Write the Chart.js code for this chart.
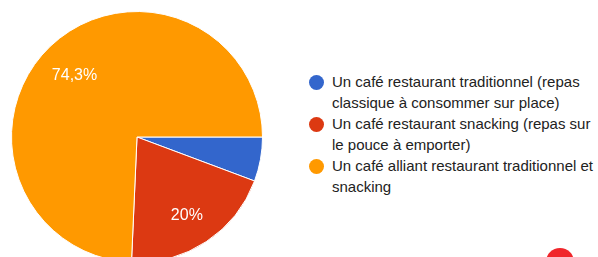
<!DOCTYPE html>
<html>
<head>
<meta charset="utf-8">
<script src="https://cdn.jsdelivr.net/npm/chart.js@4/dist/chart.umd.min.js"></script>
<style>
  html, body { margin: 0; padding: 0; background: #fff; overflow: hidden; }
  body { width: 598px; height: 257px; position: relative; }
  #pie-wrap { position: absolute; left: 0; top: 0; width: 274px; height: 274px; }
  #legend { position: absolute; left: 309px; top: 72px; font-family: "Liberation Sans", Arial, sans-serif;
            font-size: 15px; line-height: 20.5px; color: #222; }
  .item { position: relative; padding-left: 23px; margin-bottom: 1px; white-space: nowrap; }
  .dot { position: absolute; left: 0; top: 3px; width: 15px; height: 15px; border-radius: 50%; }
  #badge { position: absolute; left: 546px; top: 248px; width: 28px; height: 28px; border-radius: 50%; background: #f0262b; }
</style>
</head>
<body>
<div id="pie-wrap"><canvas id="pie-chart" width="274" height="274"></canvas></div>
<div id="legend"></div>
<div id="badge"></div>
<script>
const labels = [
  ["Un café restaurant traditionnel (repas", "classique à consommer sur place)"],
  ["Un café restaurant snacking (repas sur", "le pouce à emporter)"],
  ["Un café alliant restaurant traditionnel et", "snacking"]
];
const values = [5.7, 20, 74.3];
const colors = ["#3366cc", "#dc3912", "#ff9900"];

// legend as html, built from the same arrays
const legend = document.getElementById("legend");
labels.forEach((lines, i) => {
  const item = document.createElement("div");
  item.className = "item";
  const dot = document.createElement("span");
  dot.className = "dot";
  dot.style.background = colors[i];
  item.appendChild(dot);
  lines.forEach((line, j) => {
    if (j > 0) item.appendChild(document.createElement("br"));
    item.appendChild(document.createTextNode(line));
  });
  legend.appendChild(item);
});

function formatPct(v) {
  return String(v).replace(".", ",") + "%";
}

// percentage labels inside the slices
const sliceLabels = {
  id: "sliceLabels",
  afterDatasetsDraw(chart) {
    const ctx = chart.ctx;
    const meta = chart.getDatasetMeta(0);
    ctx.save();
    ctx.fillStyle = "#fff";
    ctx.font = "16px 'Liberation Sans', Arial, sans-serif";
    ctx.textAlign = "center";
    ctx.textBaseline = "alphabetic";
    meta.data.forEach((arc, i) => {
      if (values[i] < 10) return;
      const mid = (arc.startAngle + arc.endAngle) / 2;
      const r = arc.outerRadius * 0.72;
      ctx.fillText(formatPct(values[i]), arc.x + Math.cos(mid) * r, arc.y + Math.sin(mid) * r + 8);
    });
    ctx.restore();
  }
};

new Chart(document.getElementById("pie-chart").getContext("2d"), {
  type: "pie",
  data: {
    labels: labels.map(l => l.join(" ")),
    datasets: [
      {
        data: values,
        backgroundColor: colors,
        borderColor: "#fff",
        borderWidth: 1
      }
    ]
  },
  options: {
    responsive: false,
    devicePixelRatio: 1,
    animation: false,
    rotation: 90,
    layout: { padding: 11 },
    plugins: {
      legend: { display: false },
      tooltip: { enabled: false }
    }
  },
  plugins: [sliceLabels]
});
</script>
</body>
</html>
